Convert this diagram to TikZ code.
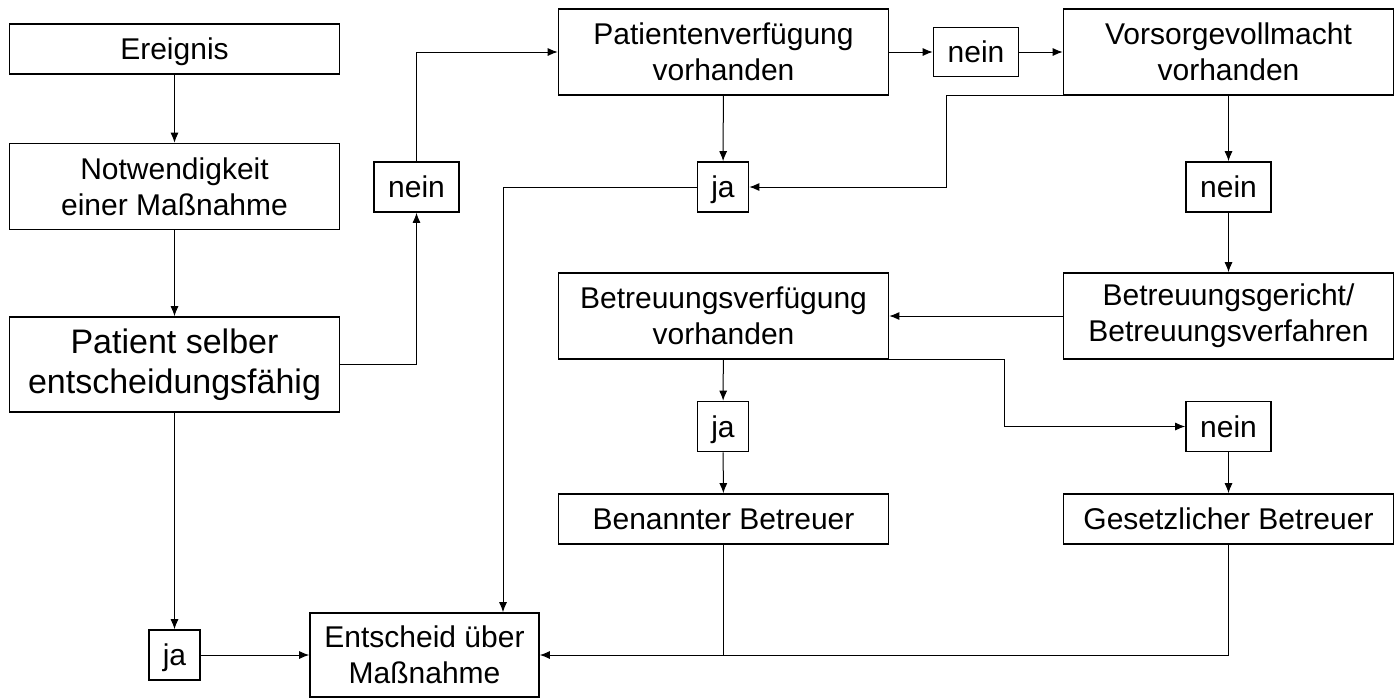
\documentclass[tikz,border=0pt]{standalone}
\usepackage{fontspec}
\setmainfont{Liberation Sans}
\usetikzlibrary{arrows.meta,calc}
\newcommand{\kschrift}{\fontsize{15pt}{18pt}\selectfont}
\newcommand{\gschrift}{\fontsize{17pt}{20pt}\selectfont}

\begin{document}
\begin{tikzpicture}[x=0.5pt,y=-0.5pt,
  kasten/.style={draw,line width=0.8pt,align=center,inner sep=0pt,font=\kschrift,minimum width=165pt,minimum height=43pt},
  flach/.style={kasten,text height=13pt,text depth=2.3pt,minimum height=25pt},
  antwort/.style={flach,minimum width=42.5pt},
  jabox/.style={antwort,minimum width=25.5pt},
  pfeil/.style={-{Latex[length=5pt,width=4pt]},line width=0.5pt},
  linie/.style={line width=0.5pt}]
\useasboundingbox (0,0) rectangle (1396,698);
%left column
\node[flach] (ereignis) at (174.5,49) {Ereignis};
\node[kasten] (notw) at (174.5,186.5) {Notwendigkeit\\einer Maßnahme};
\node[kasten,minimum height=47.5pt,font=\gschrift] (patient) at (174.5,364.5) {Patient selber\\entscheidungsfähig};
\node[antwort] (nein1) at (416.5,187) {nein};
\node[jabox] (ja3) at (174.5,655) {ja};
\node[kasten,minimum width=114.5pt,minimum height=42pt] (entscheid) at (424.5,655) {Entscheid über\\Maßnahme};
%top row
\node[kasten] (pv) at (723.5,52) {Patientenverfügung\\vorhanden};
\node[antwort,minimum height=24.5pt] (nein2) at (976,52) {nein};
\node[kasten] (vv) at (1228.5,52) {Vorsorgevollmacht\\vorhanden};
\node[jabox] (ja1) at (723,187) {ja};
\node[antwort] (nein3) at (1228.5,187) {nein};
%guardianship part
\node[kasten] (bv) at (723.5,316) {Betreuungsverfügung\\vorhanden};
\node[kasten] (bg) at (1228.5,316) {Betreuungsgericht/\\Betreuungsverfahren};
\node[jabox] (ja2) at (723,426.5) {ja};
\node[antwort] (nein4) at (1228.5,426.5) {nein};
\node[flach] (benannt) at (723.5,519) {Benannter Betreuer};
\node[flach] (gesetz) at (1228.5,519) {Gesetzlicher Betreuer};
% straight arrows
\foreach \von/\nach in {ereignis/notw,notw/patient,patient/ja3,pv/ja1,vv/nein3,nein3/bg,bv/ja2,ja2/benannt,nein4/gesetz,pv/nein2,nein2/vv,bg/bv,ja3/entscheid}
  \draw[pfeil] (\von) -- (\nach);
% bent arrows
\draw[pfeil] (patient) -| (nein1);
\draw[pfeil] (nein1) |- (pv);
\coordinate (vvab) at ($(vv.south west)+(80,0)$);
\draw[pfeil] (vvab) -- ++(-196,0) |- (ja1);
\draw[pfeil] (ja1) -| ($(entscheid.north)+(78.5,0)$);
\draw[pfeil] (bv.south east) -- ++(115,0) |- (nein4);
\draw[linie] (benannt) -- (benannt |- entscheid);
\draw[pfeil] (gesetz) |- (entscheid);

\end{tikzpicture}
\end{document}
